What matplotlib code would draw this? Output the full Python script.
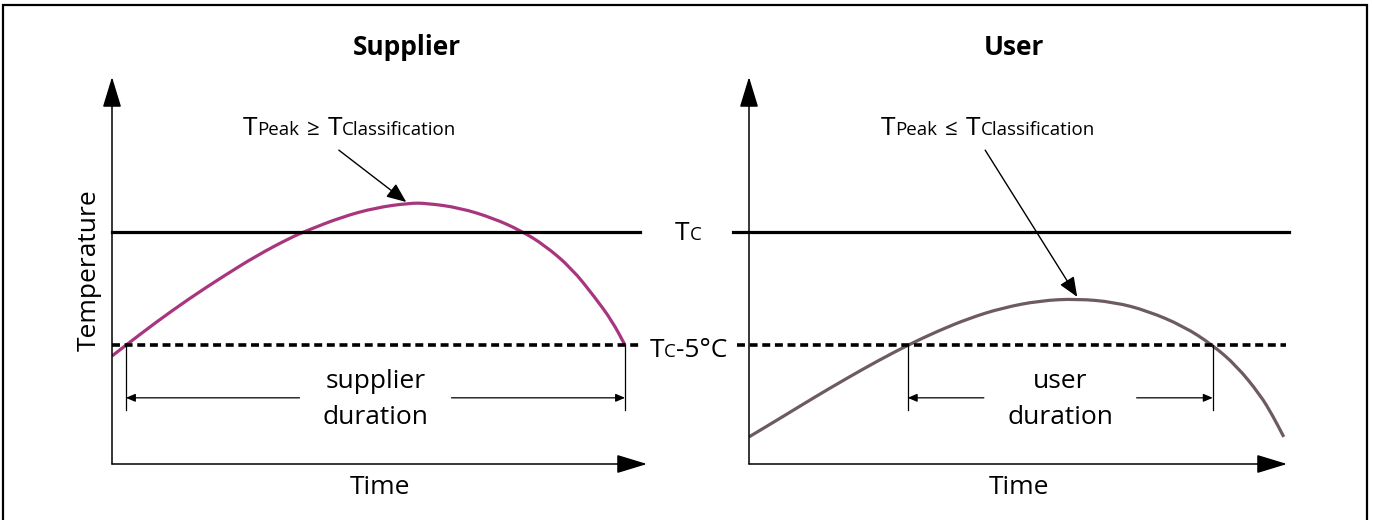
import matplotlib
matplotlib.use("Agg")
import matplotlib.pyplot as plt
from matplotlib.patches import Rectangle, PathPatch
from matplotlib.path import Path
from matplotlib.transforms import offset_copy

plt.rcParams["font.family"] = ["Open Sans", "DejaVu Sans"]

# temperature levels (arbitrary units, axis runs 0..100)
TC = 60.0
TC_MINUS_5 = 30.7

# supplier profile (time, temperature)
sup_time = [0, 2.6, 8.2, 14.5, 20.8, 27.1, 33.4, 36.6, 42.9, 49.2, 55.5, 58.7,
            65.0, 71.3, 76.4, 80.8, 85.9, 90.3, 93.5, 95.9]
sup_temp = [27.9, 30.7, 36.6, 42.8, 48.5, 53.9, 58.5, 60.4, 63.8, 66.2, 67.4, 67.4,
            66.2, 63.5, 60.3, 56.6, 50.6, 43.0, 36.9, 30.7]

# user profile (time, temperature)
usr_time = [0, 6.0, 12.0, 18.0, 24.0, 29.5, 35.0, 41.0, 47.0, 54.0, 61.0, 68.0,
            74.0, 80.8, 86.2, 90.6, 95.0, 97.3, 99.4]
usr_temp = [7.0, 12.0, 17.1, 22.0, 26.7, 30.7, 34.3, 37.7, 40.3, 42.2, 42.7, 41.8,
            39.6, 35.6, 30.7, 25.4, 17.9, 12.6, 7.0]

sup_duration = (2.6, 95.9)
usr_duration = (29.5, 86.2)

panels = ["Supplier", "User"]
sup_color = "#a8367f"
usr_color = "#6e5b5f"

fig = plt.figure(figsize=(13.73, 5.2), dpi=100)
renderer = fig.canvas.get_renderer()

ax1 = fig.add_axes([112 / 1373, 56 / 520, 535 / 1373, 387 / 520])
ax2 = fig.add_axes([749 / 1373, 56 / 520, 538 / 1373, 387 / 520])


def smooth_curve(ax, xs, ys, color):
    # quadratic bezier through the midpoints, so the read points join without corners
    pts = list(zip(xs, ys))
    verts = [pts[0]]
    codes = [Path.MOVETO]
    mid = lambda a, b: ((a[0] + b[0]) / 2, (a[1] + b[1]) / 2)
    verts.append(mid(pts[0], pts[1]))
    codes.append(Path.LINETO)
    for i in range(1, len(pts) - 1):
        verts += [pts[i], mid(pts[i], pts[i + 1])]
        codes += [Path.CURVE3, Path.CURVE3]
    verts.append(pts[-1])
    codes.append(Path.LINETO)
    ax.add_patch(PathPatch(Path(verts, codes), fill=False, edgecolor=color, lw=2.3,
                           capstyle="butt", joinstyle="round"))


def rich_text(ax, x, y, parts):
    # parts: (text, fontsize, gap after in px); centred on x, baseline at y
    items = []
    for s, size, gap in parts:
        t = ax.text(x, y, s, fontsize=size, ha="left", va="baseline", clip_on=False)
        items.append((t, t.get_window_extent(renderer).width + gap))
    total = sum(w for _, w in items) - parts[-1][2]
    off = -total / 2
    for t, w in items:
        t.set_transform(offset_copy(ax.transData, x=off, y=0, units="dots"))
        off += w


def axis_arrows(ax):
    style = "-|>,head_length=0.95,head_width=0.29"
    for tip in [(100, 0), (0, 100)]:
        ax.annotate("", xy=tip, xytext=(0, 0),
                    arrowprops=dict(arrowstyle=style, lw=1.1, color="black",
                                    mutation_scale=20, shrinkA=0, shrinkB=0))


def duration(ax, t0, t1, words):
    mid = (t0 + t1) / 2
    for t in (t0, t1):
        ax.plot([t, t], [TC_MINUS_5, 14.0], color="black", lw=0.9, clip_on=False)
    style = "-|>,head_length=0.4,head_width=0.17"
    for tip, tail in [(t0, mid - 14.2), (t1, mid + 14.2)]:
        ax.annotate("", xy=(tip, 17.1), xytext=(tail, 17.1),
                    arrowprops=dict(arrowstyle=style, lw=0.9, color="black",
                                    mutation_scale=14, shrinkA=0, shrinkB=0))
    ax.text(mid, 21.2, words[0], fontsize=19, ha="center", va="center")
    ax.text(mid, 11.9, words[1], fontsize=19, ha="center", va="center")


dash = (0, (2.2, 1.3))

for ax in (ax1, ax2):
    ax.set_xlim(0, 100)
    ax.set_ylim(0, 100)
    ax.axis("off")
    axis_arrows(ax)
    ax.text(50.1, -6.2, "Time", fontsize=19, ha="center", va="center", clip_on=False)

# supplier panel
ax1.text(55.1, 107.5, panels[0], fontsize=19, fontweight="bold", ha="center", va="center")
ax1.text(-4.2, 50.1, "Temperature", fontsize=19, rotation=90, ha="center", va="center")
ax1.plot([0, 98.7], [TC, TC], color="black", lw=2.3, clip_on=False)
ax1.plot([0, 98.7], [TC_MINUS_5, TC_MINUS_5], color="black", lw=2.6,
         linestyle=dash, clip_on=False)
smooth_curve(ax1, sup_time, sup_temp, sup_color)
duration(ax1, sup_duration[0], sup_duration[1], ["supplier", "duration"])
ax1.annotate("", xy=(55.0, 67.7), xytext=(42.4, 81.1),
             arrowprops=dict(arrowstyle="-|>,head_length=0.6,head_width=0.25", lw=1,
                             color="black", mutation_scale=20, shrinkA=0, shrinkB=0))
rich_text(ax1, 44.4, 85.0, [("T", 19, 0), ("Peak", 13.5, 8), ("\u2265", 16, 8),
                             ("T", 19, 0), ("Classification", 13.5, 0)])

# level labels between panels
rich_text(ax1, 107.7, 57.9, [("T", 19, 0), ("C", 13.5, 0)])
rich_text(ax1, 107.7, 27.6, [("T", 19, 0), ("C", 13.5, 0), ("-5\u00b0C", 19, 0)])

# user panel
ax2.text(49.3, 107.5, panels[1], fontsize=19, fontweight="bold", ha="center", va="center")
ax2.plot([-3.0, 100.4], [TC, TC], color="black", lw=2.3, clip_on=False)
ax2.plot([-2.2, 99.8], [TC_MINUS_5, TC_MINUS_5], color="black", lw=2.6,
         linestyle=dash, clip_on=False)
smooth_curve(ax2, usr_time, usr_temp, usr_color)
duration(ax2, usr_duration[0], usr_duration[1], ["user", "duration"])
ax2.annotate("", xy=(61.0, 43.2), xytext=(43.9, 81.1),
             arrowprops=dict(arrowstyle="-|>,head_length=0.6,head_width=0.25", lw=1,
                             color="black", mutation_scale=20, shrinkA=0, shrinkB=0))
rich_text(ax2, 44.4, 85.0, [("T", 19, 0), ("Peak", 13.5, 8), ("\u2264", 16, 8),
                             ("T", 19, 0), ("Classification", 13.5, 0)])

# outer frame
fig.patches.append(Rectangle((3 / 1373, -0.05), 1364 / 1373, 515 / 520 + 0.05,
                             transform=fig.transFigure, fill=False, lw=1.6,
                             edgecolor="black"))

fig.savefig("out.png", dpi=100)
